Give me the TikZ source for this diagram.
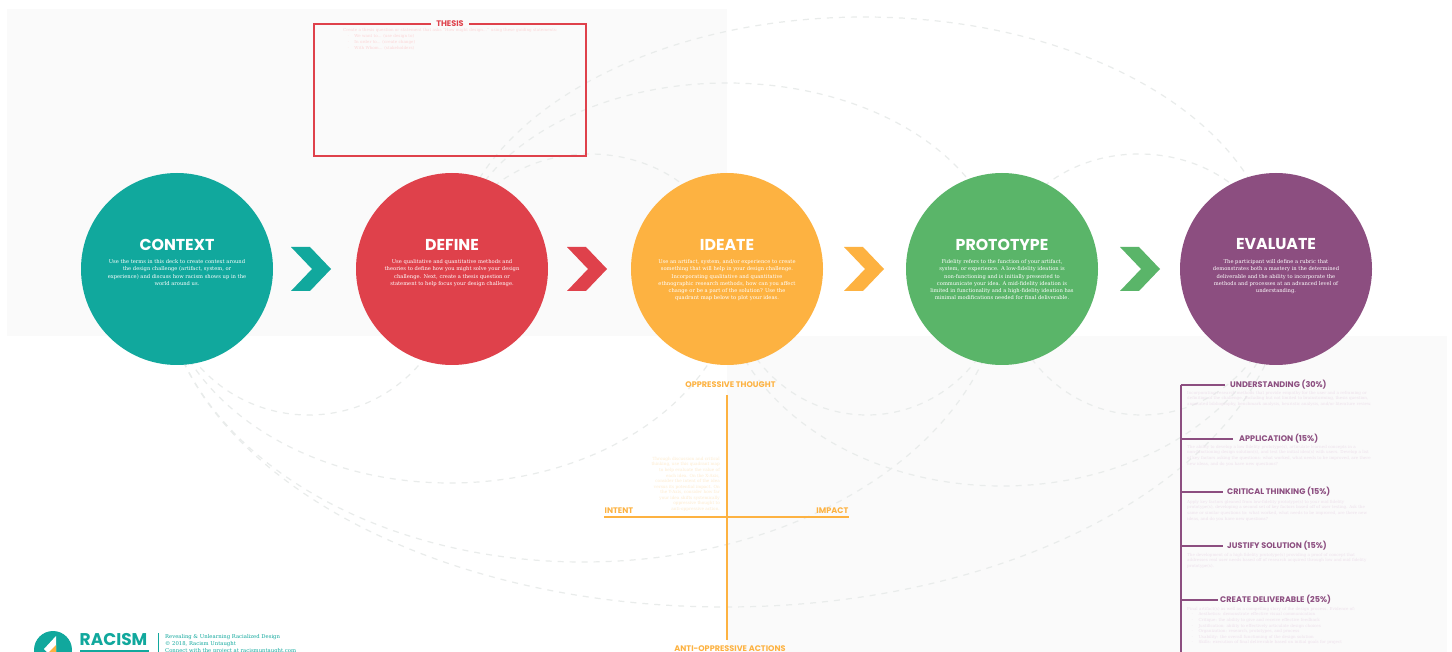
\documentclass[tikz,border=0pt]{standalone}
\usepackage{fontspec}
\setmainfont{DejaVu Serif}
\newfontfamily\headfont{Poppins}
\usetikzlibrary{calc}
\definecolor{contextcol}{HTML}{11A89D}
\definecolor{definecol}{HTML}{DF414B}
\definecolor{ideatecol}{HTML}{FDB241}
\definecolor{protocol}{HTML}{5AB569}
\definecolor{evalcol}{HTML}{8C4E80}
\definecolor{panelcol}{HTML}{FAFAFA}
\definecolor{arccol}{HTML}{E9ECEB}
\definecolor{thesistxt}{HTML}{FAD5D6}
\definecolor{ideatetxt}{HTML}{FEEBCE}
\definecolor{evaltxt}{HTML}{EDE0EB}
\begin{document}
\begin{tikzpicture}
[x=1pt,y=-1pt,
  stagenode/.style={shape=circle,minimum size=192pt,inner sep=0pt},
  stagetitle/.style={text=white,font=\headfont\bfseries\fontsize{15.8}{16}\selectfont,anchor=center},
  stagetext/.style={text=white,font=\fontsize{5.2}{7.2}\selectfont,align=center,anchor=north,inner sep=0pt},
  heading/.style={font=\headfont\bfseries\fontsize{8.1}{9}\selectfont,inner sep=0pt},
  smalltext/.style={font=\fontsize{4.1}{5.6}\selectfont,align=left,anchor=north west,inner sep=0pt},
  arcline/.style={draw=arccol,line width=1.2pt,dash pattern=on 6pt off 6pt},
  thickbar/.style={line width=2pt}]
\useasboundingbox (0,0) rectangle (1452,652);
\clip (0,0) rectangle (1452,652);
%% background panels
\fill[white] (0,0) rectangle (1452,652);
\fill[panelcol] (7,9) rectangle (727,336);
\fill[panelcol] (727,336) rectangle (1447,652);
%% centres of the stages, the dashed arcs hang on these
\foreach \nodename/\x in {contextc/177, definec/452, ideatec/727, protoc/1002, evalc/1276}
{
  \coordinate (\nodename) at (\x,269);
}
%% dashed arcs
\foreach \startnode/\dx/\rx/\ry/\stopangle in {definec/0/137.5/115/360, definec/0/275/186/360,
  definec/0/412/252/360, protoc/0/137/115/360, contextc/-15/146.5/146/0, contextc/-15/288/214/0,
  contextc/-15/421/293/0, contextc/-15/563/338/0, ideatec/0/140/146/0, ideatec/-8/283/217/0,
  protoc/0/140/146/0}
{
  \draw[arcline] ([xshift=\dx pt]\startnode) arc[start angle=180,end angle=\stopangle,x radius=\rx,y radius=\ry];
}
%% thesis box
\node[heading,text=definecol] (thesis) at (450,24) {THESIS};
\draw[definecol,thickbar] ($(thesis.west)+(-5,0)$) -| (314,156) -| (586,24) -- ($(thesis.east)+(5,0)$);
\node[smalltext,text=thesistxt,font=\fontsize{4.1}{5.8}\selectfont] (thesisnote) at (343,28.5) {Create a thesis question or statement that asks ``How might design...'' using these guiding statements:\\
\hspace*{4pt}$\cdot$\hspace*{5pt}We want to... (use design to)\\
\hspace*{4pt}$\cdot$\hspace*{5pt}In order to... (create change)\\
\hspace*{4pt}$\cdot$\hspace*{5pt}With Whom... (stakeholders)};
%% stages
\foreach \nodename/\x/\col/\stagename/\body in {
  context/177/contextcol/CONTEXT/{Use the terms in this deck to create context around\\the design challenge (artifact, system, or\\experience) and discuss how racism shows up in the\\world around us.},
  define/452/definecol/DEFINE/{Use qualitative and quantitative methods and\\theories to define how you might solve your design\\challenge. Next, create a thesis question or\\statement to help focus your design challenge.},
  ideate/727/ideatecol/IDEATE/{Use an artifact, system, and/or experience to create\\something that will help in your design challenge.\\Incorporating qualitative and quantitative\\ethnographic research methods, how can you affect\\change or be a part of the solution? Use the\\quadrant map below to plot your ideas.},
  prototype/1002/protocol/PROTOTYPE/{Fidelity refers to the function of your artifact,\\system, or experience. A low-fidelity ideation is\\non-functioning and is initially presented to\\communicate your idea. A mid-fidelity ideation is\\limited in functionality and a high-fidelity ideation has\\minimal modifications needed for final deliverable.},
  evaluate/1276/evalcol/EVALUATE/{The participant will define a rubric that\\demonstrates both a mastery in the determined\\deliverable and the ability to incorporate the\\methods and processes at an advanced level of\\understanding.}}
{
  \node[stagenode,fill=\col] (\nodename) at (\x,269) {};
  \node[stagetitle] (\nodename title) at (\x,244.5) {\stagename};
  \node[stagetext] (\nodename text) at (\x,259.5) {\body};
}
%% chevrons
\foreach \x/\col in {291/contextcol,567/definecol,844/ideatecol,1120/protocol}
{
  \fill[\col] (\x,247) -- +(19,0) -- +(40,22) -- +(19,44) -- +(0,44) -- +(21,22) -- cycle;
}
%% quadrant map
\node[heading,text=ideatecol] (thought) at (730.5,385) {OPPRESSIVE THOUGHT};
\node[heading,text=ideatecol] (actions) at (730,649) {ANTI-OPPRESSIVE ACTIONS};
\coordinate (axistop) at (727,395);
\coordinate (axisbot) at (727,640);
\coordinate (axisl) at (604,517);
\coordinate (axisr) at (849,517);
\draw[ideatecol,thickbar] (axistop) -- (axisbot);
\draw[ideatecol,thickbar] (axisl) -- (axisr);
\node[heading,text=ideatecol,anchor=west] (intent) at (604.5,511) {INTENT};
\node[heading,text=ideatecol,anchor=east] (impact) at (848.5,511) {IMPACT};
\node[font=\fontsize{4.2}{5.55}\selectfont,text=ideatetxt,align=right,anchor=north east,inner sep=0pt] (quadnote) at (720,457) {Through discussion and critical\\thinking, use this quadrant map\\to help evaluate the value of\\each idea. On the X-Axis,\\consider the intent of the idea\\versus its potential impact. On\\the Y-Axis, consider how far\\your idea shifts systemically\\oppressive thought to\\anti-oppressive action.};
%% rubric
\coordinate (railtop) at (1180.5,385);
\coordinate (railbot) at (1180.5,652);
\draw[evalcol,thickbar] (railtop) -- (railbot);
\foreach \nodename/\y/\xend/\xtxt/\headtxt in {understanding/385/1225/1230/UNDERSTANDING (30\%),
  application/438.5/1233/1239/APPLICATION (15\%), critical/492/1223/1227/CRITICAL THINKING (15\%),
  justify/546/1223/1227/JUSTIFY SOLUTION (15\%), deliverable/600/1218/1220/CREATE DELIVERABLE (25\%)}
{
  \node[heading,text=evalcol,anchor=west] (\nodename) at (\xtxt,\y) {\headtxt};
  \draw[evalcol,thickbar] (railtop |- \nodename) -- (\xend,\y);
}
\node[smalltext,text=evaltxt] (unote) at (1187,391) {Incorporating research methods that provide empathy for the user and a reframing or\\definition of the challenge. Including but not limited to brainstorming, thesis question,\\annotated bibliography, benchmark analysis, heuristic analysis, and/or literature review.};
\node[smalltext,text=evaltxt] (anote) at (1187,445) {The ability to develop a low fidelity prototype(s), articulate learned concepts in a\\non-functioning design solution(s), and test the initial idea(s) with users. Develop a list\\of key factors asking the questions: what worked, what needs to be improved, are there\\new ideas, and do you have new questions?};
\node[smalltext,text=evaltxt] (cnote) at (1187,500) {Apply key factors gleaned from low-fidelity prototype(s) to your mid fidelity\\prototype(s), developing a second set of key factors based off of user testing. Ask the\\same or similar questions to: what worked, what needs to be improved, are there new\\ideas, and do you have new questions?};
\node[smalltext,text=evaltxt] (jnote) at (1187,553) {The development of a high fidelity prototype(s) providing a proof of concept that\\addresses real user needs based off of research acquired through low and mid fidelity\\prototype(s).};
\node[smalltext,text=evaltxt] (dnote) at (1187,607) {Final artifact(s) as well as a compelling story of the design process. Evidence of:\\
\hspace*{4pt}$\cdot$\hspace*{5pt}Aesthetics: demonstrate effective visual communication\\
\hspace*{4pt}$\cdot$\hspace*{5pt}Critique: the ability to give and receive effective feedback\\
\hspace*{4pt}$\cdot$\hspace*{5pt}Justification: ability to effectively articulate design choices\\
\hspace*{4pt}$\cdot$\hspace*{5pt}Organization: research, prototypes, and process\\
\hspace*{4pt}$\cdot$\hspace*{5pt}Usability: the overall functioning of the design solution\\
\hspace*{4pt}$\cdot$\hspace*{5pt}Skills: execution of final deliverable based on initial goals for project};
%% logo
\node[shape=circle,fill=contextcol,minimum size=38pt,inner sep=0pt] (logo) at (53,650) {};
\fill[white] (56,636) -- (44,649) -- (47,652) -- (56,652) -- cycle;
\fill[ideatecol] (56,645) -- (56,652) -- (49,652) -- cycle;
\node[font=\headfont\bfseries\fontsize{17}{17}\selectfont,text=contextcol,anchor=west,inner sep=0pt] (racism) at (79.5,639.5) {RACISM};
\fill[contextcol] (80,650) rectangle (149,652);
\draw[contextcol,line width=1pt] (158,633) -- (158,652);
\node[font=\fontsize{5.3}{7.1}\selectfont,text=contextcol,align=left,anchor=north west,inner sep=0pt] (credit) at (165,634) {Revealing \& Unlearning Racialized Design\\ \textcopyright{} 2018, Racism Untaught\\ Connect with the project at racismuntaught.com};
\end{tikzpicture}
\end{document}
